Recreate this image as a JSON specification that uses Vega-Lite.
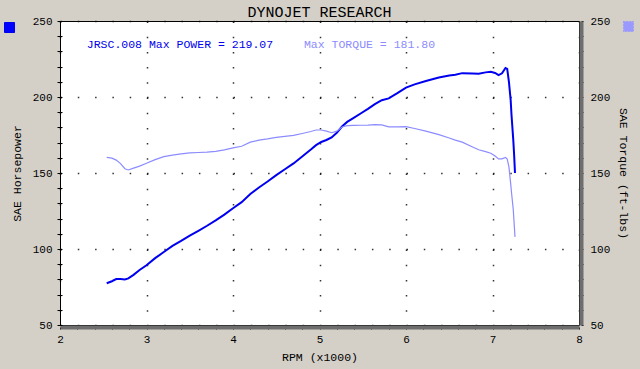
{
  "$schema": "https://vega.github.io/schema/vega-lite/v6.json",
  "width": 519,
  "height": 304,
  "autosize": "none",
  "padding": {"left": 60, "top": 21, "right": 61, "bottom": 44},
  "background": "#d4d0c8",
  "title": {"text": "DYNOJET RESEARCH", "font": "Liberation Mono", "fontSize": 15, "fontWeight": "normal", "color": "#000000", "anchor": "middle", "frame": "group", "offset": -5},
  "config": {
    "view": {"fill": "#ffffff", "stroke": "#000000", "strokeWidth": 1},
    "axis": {"labelFont": "Liberation Mono", "labelFontSize": 11, "labelColor": "#000000", "titleFont": "Liberation Mono", "titleFontSize": 11.5, "titleFontWeight": "normal", "titleColor": "#000000", "tickColor": "#000000", "gridColor": "#000000", "labelFlush": false}
  },
  "data": {"values": [
    {"rpm": 2.54, "hp": 77.5, "tq": 160.3},
    {"rpm": 2.60, "hp": 78.8, "tq": 159.8},
    {"rpm": 2.65, "hp": 80.2, "tq": 158.5},
    {"rpm": 2.70, "hp": 80.3, "tq": 156.2},
    {"rpm": 2.75, "hp": 80.0, "tq": 152.8},
    {"rpm": 2.79, "hp": 80.7, "tq": 152.0},
    {"rpm": 2.85, "hp": 83.0, "tq": 153.2},
    {"rpm": 2.92, "hp": 86.2, "tq": 154.5},
    {"rpm": 3.00, "hp": 89.3, "tq": 156.4},
    {"rpm": 3.10, "hp": 94.0, "tq": 158.8},
    {"rpm": 3.20, "hp": 98.0, "tq": 160.8},
    {"rpm": 3.30, "hp": 102.0, "tq": 161.8},
    {"rpm": 3.40, "hp": 105.3, "tq": 162.6},
    {"rpm": 3.50, "hp": 108.8, "tq": 163.2},
    {"rpm": 3.60, "hp": 112.0, "tq": 163.5},
    {"rpm": 3.70, "hp": 115.3, "tq": 163.7},
    {"rpm": 3.80, "hp": 118.8, "tq": 164.2},
    {"rpm": 3.90, "hp": 122.6, "tq": 165.2},
    {"rpm": 4.00, "hp": 126.8, "tq": 166.5},
    {"rpm": 4.10, "hp": 130.8, "tq": 167.6},
    {"rpm": 4.20, "hp": 136.2, "tq": 170.3},
    {"rpm": 4.30, "hp": 140.5, "tq": 171.6},
    {"rpm": 4.40, "hp": 144.4, "tq": 172.4},
    {"rpm": 4.50, "hp": 148.6, "tq": 173.4},
    {"rpm": 4.60, "hp": 152.5, "tq": 174.1},
    {"rpm": 4.70, "hp": 156.3, "tq": 174.7},
    {"rpm": 4.80, "hp": 160.8, "tq": 176.0},
    {"rpm": 4.90, "hp": 165.4, "tq": 177.3},
    {"rpm": 4.96, "hp": 168.3, "tq": 178.3},
    {"rpm": 5.02, "hp": 170.4, "tq": 178.3},
    {"rpm": 5.08, "hp": 171.7, "tq": 177.5},
    {"rpm": 5.14, "hp": 173.4, "tq": 176.5},
    {"rpm": 5.20, "hp": 176.5, "tq": 177.5},
    {"rpm": 5.26, "hp": 180.6, "tq": 180.3},
    {"rpm": 5.32, "hp": 183.6, "tq": 181.2},
    {"rpm": 5.40, "hp": 186.4, "tq": 181.3},
    {"rpm": 5.48, "hp": 189.3, "tq": 181.4},
    {"rpm": 5.56, "hp": 192.2, "tq": 181.5},
    {"rpm": 5.64, "hp": 195.3, "tq": 181.8},
    {"rpm": 5.72, "hp": 197.9, "tq": 181.7},
    {"rpm": 5.80, "hp": 199.1, "tq": 180.3},
    {"rpm": 5.90, "hp": 202.5, "tq": 180.3},
    {"rpm": 6.00, "hp": 206.2, "tq": 180.5},
    {"rpm": 6.10, "hp": 208.3, "tq": 179.3},
    {"rpm": 6.23, "hp": 210.5, "tq": 177.5},
    {"rpm": 6.38, "hp": 212.8, "tq": 175.2},
    {"rpm": 6.50, "hp": 214.1, "tq": 173.0},
    {"rpm": 6.57, "hp": 214.7, "tq": 171.6},
    {"rpm": 6.65, "hp": 215.7, "tq": 170.3},
    {"rpm": 6.77, "hp": 215.4, "tq": 167.1},
    {"rpm": 6.84, "hp": 215.3, "tq": 165.3},
    {"rpm": 6.92, "hp": 216.2, "tq": 164.1},
    {"rpm": 6.98, "hp": 216.6, "tq": 163.0},
    {"rpm": 7.03, "hp": 215.8, "tq": 161.2},
    {"rpm": 7.07, "hp": 214.4, "tq": 159.3},
    {"rpm": 7.11, "hp": 215.6, "tq": 159.3},
    {"rpm": 7.15, "hp": 219.1, "tq": 160.3},
    {"rpm": 7.17, "hp": 218.5, "tq": 159.2},
    {"rpm": 7.19, "hp": 210.0, "tq": 154.0},
    {"rpm": 7.21, "hp": 198.0, "tq": 143.0},
    {"rpm": 7.22, "hp": 188.0, "tq": 137.0},
    {"rpm": 7.24, "hp": 172.0, "tq": 126.0},
    {"rpm": 7.25, "hp": 162.0, "tq": 117.0},
    {"rpm": 7.26, "hp": 150.0, "tq": 108.0}
  ]},
  "layer": [
    {
      "layer": [
        {
          "mark": {"type": "line", "strokeWidth": 2, "color": "#0000f0"},
          "encoding": {
            "x": {
              "field": "rpm", "type": "quantitative",
              "scale": {"domain": [2, 8], "nice": false, "zero": false},
              "axis": {
                "title": "RPM (x1000)", "titlePadding": 7,
                "values": [2, 2.2, 2.4, 2.6, 2.8, 3, 3.2, 3.4, 3.6, 3.8, 4, 4.2, 4.4, 4.6, 4.8, 5, 5.2, 5.4, 5.6, 5.8, 6, 6.2, 6.4, 6.6, 6.8, 7, 7.2, 7.4, 7.6, 7.8, 8],
                "labelExpr": "datum.value % 1 === 0 ? '' + datum.value : ''",
                "grid": true, "gridDash": [1.5, 13.7], "gridWidth": 1.5,
                "gridOpacity": {"condition": {"test": "datum.value % 1 === 0", "value": 0.8}, "value": 0},
                "domainColor": "#6e6e6e", "domainWidth": 4, "offset": 2,
                "tickSize": 2, "labelPadding": 4
              }
            },
            "y": {
              "field": "hp", "type": "quantitative",
              "scale": {"domain": [50, 250], "nice": false, "zero": false},
              "axis": {
                "orient": "left", "title": "SAE Horsepower", "titlePadding": 10,
                "values": [50, 60, 70, 80, 90, 100, 110, 120, 130, 140, 150, 160, 170, 180, 190, 200, 210, 220, 230, 240, 250],
                "labelExpr": "datum.value % 50 === 0 ? datum.label : ''",
                "grid": true, "gridDash": [1.5, 15.8], "gridWidth": 1.5,
                "gridOpacity": {"condition": {"test": "datum.value % 50 === 0", "value": 0.8}, "value": 0},
                "domain": false, "offset": -2, "tickSize": 5, "labelPadding": 5
              }
            },
            "color": {
              "datum": "Power", "scale": {"range": ["#0000f0"]},
              "legend": {
                "orient": "none", "legendX": -56, "legendY": 1, "padding": 0, "title": null,
                "symbolType": "square", "symbolSize": 100, "labelExpr": "''", "labelFontSize": 1,
                "encode": {"symbols": {"update": {"fill": {"value": "#0000ff"}, "stroke": {"value": "#eeeeff"}, "strokeWidth": {"value": 1}}}}
              }
            }
          }
        },
        {
          "data": {"values": [{"label": "JRSC.008 Max POWER = 219.07"}]},
          "mark": {"type": "text", "align": "left", "baseline": "middle", "font": "Liberation Mono", "fontSize": 11.5, "color": "#0000f0"},
          "encoding": {
            "x": {
              "datum": 2.31, "type": "quantitative",
              "scale": {"domain": [2, 8], "nice": false, "zero": false},
              "axis": {
                "title": "RPM (x1000)", "titlePadding": 7,
                "values": [2, 2.2, 2.4, 2.6, 2.8, 3, 3.2, 3.4, 3.6, 3.8, 4, 4.2, 4.4, 4.6, 4.8, 5, 5.2, 5.4, 5.6, 5.8, 6, 6.2, 6.4, 6.6, 6.8, 7, 7.2, 7.4, 7.6, 7.8, 8],
                "labelExpr": "datum.value % 1 === 0 ? '' + datum.value : ''",
                "grid": true, "gridDash": [1.5, 13.7], "gridWidth": 1.5,
                "gridOpacity": {"condition": {"test": "datum.value % 1 === 0", "value": 0.8}, "value": 0},
                "domainColor": "#6e6e6e", "domainWidth": 4, "offset": 2,
                "tickSize": 2, "labelPadding": 4
              }
            },
            "y": {
              "datum": 234, "type": "quantitative",
              "scale": {"domain": [50, 250], "nice": false, "zero": false},
              "axis": {
                "orient": "left", "title": "SAE Horsepower", "titlePadding": 10,
                "values": [50, 60, 70, 80, 90, 100, 110, 120, 130, 140, 150, 160, 170, 180, 190, 200, 210, 220, 230, 240, 250],
                "labelExpr": "datum.value % 50 === 0 ? datum.label : ''",
                "grid": true, "gridDash": [1.5, 15.8], "gridWidth": 1.5,
                "gridOpacity": {"condition": {"test": "datum.value % 50 === 0", "value": 0.8}, "value": 0},
                "domain": false, "offset": -2, "tickSize": 5, "labelPadding": 5
              }
            },
            "text": {"field": "label"}
          }
        },
        {
          "data": {"values": [{"label": "Max TORQUE = 181.80"}]},
          "mark": {"type": "text", "align": "left", "baseline": "middle", "font": "Liberation Mono", "fontSize": 11.5, "color": "#8c8cff"},
          "encoding": {
            "x": {
              "datum": 4.82, "type": "quantitative",
              "scale": {"domain": [2, 8], "nice": false, "zero": false},
              "axis": {
                "title": "RPM (x1000)", "titlePadding": 7,
                "values": [2, 2.2, 2.4, 2.6, 2.8, 3, 3.2, 3.4, 3.6, 3.8, 4, 4.2, 4.4, 4.6, 4.8, 5, 5.2, 5.4, 5.6, 5.8, 6, 6.2, 6.4, 6.6, 6.8, 7, 7.2, 7.4, 7.6, 7.8, 8],
                "labelExpr": "datum.value % 1 === 0 ? '' + datum.value : ''",
                "grid": true, "gridDash": [1.5, 13.7], "gridWidth": 1.5,
                "gridOpacity": {"condition": {"test": "datum.value % 1 === 0", "value": 0.8}, "value": 0},
                "domainColor": "#6e6e6e", "domainWidth": 4, "offset": 2,
                "tickSize": 2, "labelPadding": 4
              }
            },
            "y": {
              "datum": 234, "type": "quantitative",
              "scale": {"domain": [50, 250], "nice": false, "zero": false},
              "axis": {
                "orient": "left", "title": "SAE Horsepower", "titlePadding": 10,
                "values": [50, 60, 70, 80, 90, 100, 110, 120, 130, 140, 150, 160, 170, 180, 190, 200, 210, 220, 230, 240, 250],
                "labelExpr": "datum.value % 50 === 0 ? datum.label : ''",
                "grid": true, "gridDash": [1.5, 15.8], "gridWidth": 1.5,
                "gridOpacity": {"condition": {"test": "datum.value % 50 === 0", "value": 0.8}, "value": 0},
                "domain": false, "offset": -2, "tickSize": 5, "labelPadding": 5
              }
            },
            "text": {"field": "label"}
          }
        }
      ]
    },
    {
      "mark": {"type": "line", "strokeWidth": 1.2, "color": "#8c8cff"},
      "encoding": {
        "x": {
          "field": "rpm", "type": "quantitative",
          "scale": {"domain": [2, 8], "nice": false, "zero": false},
          "axis": {
            "title": "RPM (x1000)", "titlePadding": 7,
            "values": [2, 2.2, 2.4, 2.6, 2.8, 3, 3.2, 3.4, 3.6, 3.8, 4, 4.2, 4.4, 4.6, 4.8, 5, 5.2, 5.4, 5.6, 5.8, 6, 6.2, 6.4, 6.6, 6.8, 7, 7.2, 7.4, 7.6, 7.8, 8],
            "labelExpr": "datum.value % 1 === 0 ? '' + datum.value : ''",
            "grid": true, "gridDash": [1.5, 13.7], "gridWidth": 1.5,
            "gridOpacity": {"condition": {"test": "datum.value % 1 === 0", "value": 0.8}, "value": 0},
            "domainColor": "#6e6e6e", "domainWidth": 4, "offset": 2,
            "tickSize": 2, "labelPadding": 4
          }
        },
        "y": {
          "field": "tq", "type": "quantitative",
          "scale": {"domain": [50, 250], "nice": false, "zero": false},
          "axis": {
            "orient": "right", "title": "SAE Torque (ft-lbs)", "titlePadding": 8,
            "values": [50, 60, 70, 80, 90, 100, 110, 120, 130, 140, 150, 160, 170, 180, 190, 200, 210, 220, 230, 240, 250],
            "labelExpr": "datum.value % 50 === 0 ? datum.label : ''",
            "grid": false,
            "domainColor": "#6e6e6e", "domainWidth": 4, "offset": 2, "tickSize": 2, "labelPadding": 7
          }
        },
        "color": {
          "datum": "Torque", "scale": {"range": ["#8c8cff"]},
          "legend": {
            "orient": "none", "legendX": 563, "legendY": 0, "padding": 0, "title": null,
            "symbolType": "square", "symbolSize": 100, "labelExpr": "''", "labelFontSize": 1,
            "encode": {"symbols": {"update": {"fill": {"value": "#9999ff"}, "stroke": {"value": "#5555ff"}, "strokeWidth": {"value": 1}, "strokeDash": {"value": [1, 2]}}}}
          }
        }
      }
    }
  ],
  "resolve": {"scale": {"y": "independent", "color": "independent"}, "legend": {"color": "independent"}}
}
